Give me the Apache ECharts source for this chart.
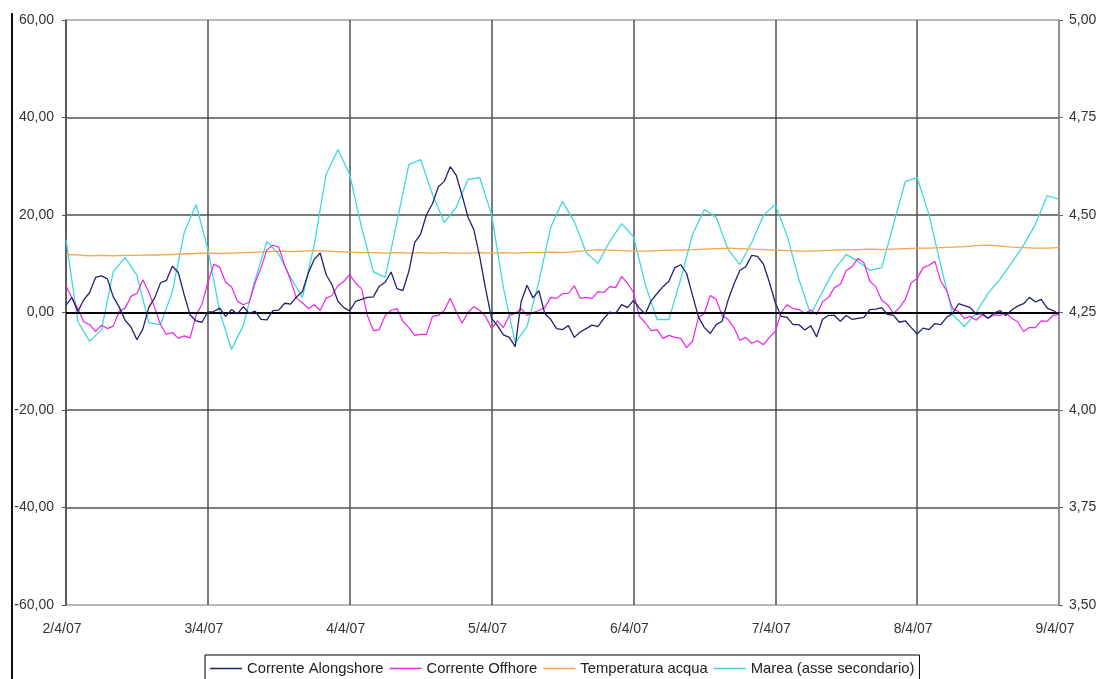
<!DOCTYPE html>
<html>
<head>
<meta charset="utf-8">
<script src="https://cdn.jsdelivr.net/npm/echarts@6/dist/echarts.min.js"></script>
<style>
  html, body { margin: 0; padding: 0; background: #fff; }
  #chart { width: 1101px; height: 679px; }
</style>
</head>
<body>
<div id="chart"></div>
<script>
// Tick labels on the time axis (one per day)
const dayLabels = ['2/4/07', '3/4/07', '4/4/07', '5/4/07', '6/4/07', '7/4/07', '8/4/07', '9/4/07'];

// Sampling steps, in hours from 2/4/07 00:00
const currentStepHours = 1;
const slowStepHours = 2;

// Corrente Alongshore (hourly)
const alongshore = [
  1.5, 3.1, 0.2, 2.6, 4.1, 7.2, 7.5, 6.9, 3.2, 1.1, -1.6, -3.0, -5.6, -3.4, 1.0, 3.0, 6.1, 6.6, 9.5, 8.2, 3.6, -0.5, -1.7, -2.0,
  0.1, 0.2, 0.9, -0.8, 0.6, -0.3, 1.2, -0.2, 0.3, -1.4, -1.5, 0.4, 0.5, 1.9, 1.7, 3.2, 4.3, 8.1, 10.9, 12.2, 7.8, 5.7, 2.3, 1.0,
  0.3, 2.3, 2.7, 3.1, 3.2, 5.4, 6.2, 8.3, 4.9, 4.5, 8.4, 14.4, 16.1, 20.1, 22.3, 25.8, 26.9, 29.9, 28.2, 24.1, 19.6, 17.0, 11.4, 4.8,
  -1.2, -2.7, -4.6, -5.1, -7.0, 2.2, 5.6, 3.0, 4.5, -0.2, -1.4, -3.3, -3.5, -2.7, -5.1, -4.0, -3.3, -2.6, -2.9, -1.2, 0.1, -0.2, 1.6, 1.0,
  2.5, 0.9, -0.3, 2.4, 3.9, 5.3, 6.4, 9.2, 9.8, 8.0, 3.5, -0.9, -3.1, -4.3, -2.5, -1.8, 2.5, 5.8, 8.6, 9.4, 11.7, 11.5, 9.9, 6.2,
  2.0, -0.8, -1.0, -2.5, -2.5, -3.6, -2.7, -5.0, -1.4, -0.6, -0.6, -1.8, -0.6, -1.4, -1.2, -1.0, 0.6, 0.7, 1.0, -0.4, -0.6, -2.0, -1.7, -3.1,
  -4.4, -3.2, -3.5, -2.3, -2.5, -1.0, -0.2, 1.8, 1.4, 1.0, -0.4, -0.2, -1.2, -0.1, 0.4, -0.6, 0.5, 1.3, 1.8, 3.1, 2.2, 2.7, 0.9, 0.4,
  -0.3
];

// Corrente Offhore (hourly)
const offshore = [
  5.5, 3.0, 0.8, -1.9, -2.5, -3.9, -2.6, -3.3, -2.8, 0.2, 0.9, 3.3, 3.9, 6.7, 4.2, 1.0, -2.5, -4.5, -4.1, -5.3, -4.8, -5.2, -0.6, 1.7,
  6.1, 9.9, 9.3, 6.2, 5.3, 2.3, 1.6, 2.1, 6.1, 9.2, 12.9, 13.8, 13.4, 9.7, 6.6, 2.9, 2.0, 0.8, 1.6, 0.4, 2.9, 3.5, 5.5, 6.4,
  7.8, 6.0, 4.9, -0.6, -3.7, -3.5, -0.6, 0.4, 0.8, -1.8, -3.1, -4.7, -4.5, -4.5, -0.8, -0.6, 0.4, 2.9, 0.2, -2.2, 0.0, 1.2, 0.4, -0.8,
  -3.3, -1.7, -3.1, -0.6, -0.2, 0.8, -0.6, 0.0, 0.4, 1.0, 3.1, 2.9, 3.9, 3.9, 5.5, 2.9, 3.1, 2.9, 4.3, 4.1, 5.3, 5.1, 7.4, 6.0,
  4.1, -0.8, -2.1, -3.7, -3.5, -5.3, -4.7, -5.1, -5.3, -7.2, -5.9, -1.0, -0.2, 3.5, 2.7, -0.6, -1.4, -3.1, -5.7, -5.1, -6.3, -5.8, -6.6, -5.1,
  -3.9, 0.0, 1.6, 0.8, 0.6, -0.2, 0.5, -0.4, 2.2, 3.1, 5.1, 5.8, 8.6, 9.4, 11.1, 10.2, 6.4, 5.3, 2.5, 1.6, -0.2, 1.0, 2.7, 6.1,
  7.0, 9.2, 9.7, 10.5, 6.4, 4.5, 0.8, 0.2, -1.2, -0.8, -1.6, -0.4, -1.2, -0.5, -0.6, 0.0, -1.2, -1.9, -3.9, -3.1, -3.1, -1.7, -1.8, -0.6,
  -0.4
];

// Temperatura acqua (every 2 hours)
const temperature = [
  11.9, 11.8, 11.6, 11.7, 11.6, 11.7, 11.7, 11.8, 11.8, 11.9, 12.0, 12.1,
  12.2, 12.1, 12.2, 12.3, 12.4, 12.5, 12.6, 12.5, 12.6, 12.7, 12.6, 12.5,
  12.4, 12.3, 12.3, 12.2, 12.3, 12.2, 12.3, 12.2, 12.3, 12.2, 12.2, 12.3,
  12.2, 12.3, 12.2, 12.3, 12.3, 12.4, 12.3, 12.5, 12.7, 12.9, 12.8, 12.7,
  12.6, 12.6, 12.7, 12.8, 12.8, 12.9, 13.0, 13.1, 13.2, 13.1, 13.0, 12.9,
  12.8, 12.7, 12.6, 12.6, 12.7, 12.8, 12.9, 12.9, 13.0, 12.9, 13.0, 13.1,
  13.2, 13.2, 13.3, 13.4, 13.5, 13.7, 13.8, 13.6, 13.4, 13.3, 13.2, 13.2,
  13.3
];

// Marea, secondary axis (every 2 hours)
const tide = [
  4.437, 4.227, 4.176, 4.206, 4.355, 4.391, 4.345, 4.224, 4.219, 4.304, 4.455, 4.527,
  4.412, 4.253, 4.155, 4.217, 4.335, 4.432, 4.399, 4.340, 4.288, 4.424, 4.604, 4.668,
  4.604, 4.468, 4.355, 4.340, 4.483, 4.629, 4.642, 4.553, 4.481, 4.519, 4.591, 4.596,
  4.501, 4.314, 4.173, 4.214, 4.329, 4.468, 4.535, 4.483, 4.404, 4.376, 4.432, 4.478,
  4.445, 4.322, 4.232, 4.232, 4.335, 4.450, 4.514, 4.494, 4.412, 4.373, 4.429, 4.499,
  4.527, 4.447, 4.335, 4.245, 4.304, 4.360, 4.399, 4.381, 4.358, 4.365, 4.476, 4.586,
  4.596, 4.501, 4.371, 4.245, 4.214, 4.250, 4.299, 4.335, 4.378, 4.422, 4.476, 4.550,
  4.540
];

const seriesNames = ['Corrente Alongshore', 'Corrente Offhore', 'Temperatura acqua', 'Marea (asse secondario)'];

const toPairs = (vals, step) => vals.map((v, i) => [i * step, v]);
const commaFmt = v => v.toFixed(2).replace('.', ',');

const FONT = 'Liberation Sans, Arial, sans-serif';
const GRID_DARK = '#505050';
const GRID_LIGHT = '#a0a0a0';

const chart = echarts.init(document.getElementById('chart'), null, { renderer: 'canvas' });

chart.setOption({
  backgroundColor: '#ffffff',
  animation: false,
  textStyle: { fontFamily: FONT },
  grid: { left: 66, right: 42, top: 20, bottom: 74, containLabel: false },
  xAxis: {
    type: 'value',
    min: 0,
    max: 168,
    interval: 24,
    axisLine: { show: true, lineStyle: { color: GRID_LIGHT, width: 1 } },
    axisTick: { show: false },
    axisLabel: {
      color: '#333',
      fontSize: 14,
      fontFamily: FONT,
      margin: 17,
      padding: [0, 8, 0, 0],
      formatter: v => dayLabels[Math.round(v / 24)]
    },
    splitLine: {
      show: true,
      lineStyle: {
        color: [GRID_DARK, GRID_DARK, GRID_DARK, GRID_DARK, GRID_DARK, GRID_DARK, GRID_DARK, '#8a8a8a'],
        width: 1.5
      }
    }
  },
  yAxis: [
    {
      type: 'value',
      min: -60,
      max: 60,
      interval: 20,
      position: 'left',
      axisLine: { show: true, lineStyle: { color: GRID_DARK, width: 1.5 } },
      axisTick: { show: true, length: 4, lineStyle: { color: '#555' } },
      axisLabel: { color: '#333', fontSize: 14, fontFamily: FONT, margin: 12, formatter: commaFmt },
      splitLine: {
        show: true,
        lineStyle: {
          color: [GRID_LIGHT, GRID_DARK, GRID_DARK, GRID_DARK, GRID_DARK, GRID_DARK, GRID_LIGHT],
          width: 1.5
        }
      }
    },
    {
      type: 'value',
      min: 3.5,
      max: 5,
      interval: 0.25,
      position: 'right',
      axisLine: { show: true, lineStyle: { color: '#8a8a8a', width: 1.5 } },
      axisTick: { show: true, length: 4, lineStyle: { color: '#666' } },
      axisLabel: { color: '#333', fontSize: 14, fontFamily: FONT, margin: 10, formatter: commaFmt },
      splitLine: { show: false }
    }
  ],
  legend: {
    data: seriesNames,
    left: 205,
    top: 655,
    orient: 'horizontal',
    icon: 'rect',
    itemWidth: 32,
    itemHeight: 1.5,
    itemGap: 6,
    padding: [6, 5, 6, 5],
    borderColor: '#000',
    borderWidth: 1,
    textStyle: { color: '#222', fontSize: 14.8, fontFamily: FONT }
  },
  graphic: [
    {
      type: 'line',
      shape: { x1: 12, y1: 13, x2: 12, y2: 679 },
      style: { stroke: '#111', lineWidth: 2 },
      silent: true
    }
  ],
  series: [
    {
      name: seriesNames[3],
      type: 'line',
      yAxisIndex: 1,
      data: toPairs(tide, slowStepHours),
      symbol: 'none',
      lineStyle: { color: '#40d8d8', width: 1.3 },
      itemStyle: { color: '#40d8d8' },
      z: 2
    },
    {
      name: seriesNames[2],
      type: 'line',
      data: toPairs(temperature, slowStepHours),
      symbol: 'none',
      lineStyle: { color: '#f5a54a', width: 1.3 },
      itemStyle: { color: '#f5a54a' },
      z: 3
    },
    {
      name: seriesNames[1],
      type: 'line',
      data: toPairs(offshore, currentStepHours),
      symbol: 'none',
      lineStyle: { color: '#ee22ee', width: 1.2 },
      itemStyle: { color: '#ee22ee' },
      z: 4
    },
    {
      name: seriesNames[0],
      type: 'line',
      data: toPairs(alongshore, currentStepHours),
      symbol: 'none',
      lineStyle: { color: '#22226e', width: 1.3 },
      itemStyle: { color: '#22226e' },
      z: 5,
      markLine: {
        silent: true,
        symbol: 'none',
        label: { show: false },
        lineStyle: { color: '#000', width: 2, type: 'solid' },
        data: [{ yAxis: 0 }]
      }
    }
  ]
});
</script>
</body>
</html>
